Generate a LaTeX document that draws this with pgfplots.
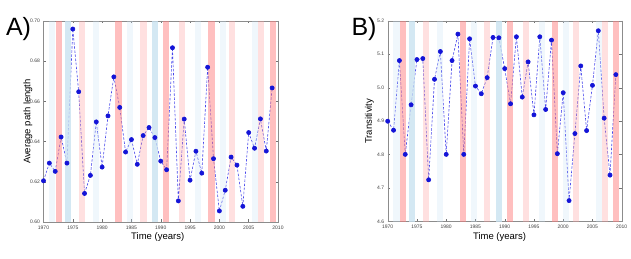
\documentclass[border=0pt]{standalone}
\usepackage{fontspec}
\setmainfont{Liberation Sans}
\usepackage{pgfplots}
\pgfplotsset{compat=1.18}
\definecolor{bred}{RGB}{255,128,128}
\definecolor{blred}{RGB}{255,160,160}
\definecolor{blblue}{RGB}{200,225,240}
\definecolor{bvlblue}{RGB}{200,225,245}
\definecolor{ptc}{RGB}{20,20,215}
\definecolor{lnc}{RGB}{70,70,235}
\pgfplotsset{
  myaxis/.style={
    scale only axis, width=234.5pt, height=201pt,
    xmin=1970, xmax=2010, xtick={1970,1975,...,2010},
    axis line style={black!45},
    tick style={black!55, line width=0.4pt},
    major tick length=2.5pt, tick align=inside,
    tick label style={font=\fontsize{5}{6}\selectfont, text=black!75},
    /pgf/number format/assume math mode=true,
    x tick label style={/pgf/number format/1000 sep={}},
    label style={font=\fontsize{9.5}{11}\selectfont},
    xlabel={Time (years)},
    clip=true,
  },
  bands/.style={ycomb, line width=6.1pt, forget plot},
  series/.style={dashed, dash pattern=on 2.5pt off 1.6pt, lnc, line width=0.6pt,
    mark=*, mark size=2.1pt, mark options={solid, fill=ptc, draw=ptc}},
}
\begin{document}
\begin{tikzpicture}
\useasboundingbox (0,0) rectangle (631pt,259pt);
% ---------------- Panel A ----------------
\begin{axis}[myaxis, at={(43.5pt,37pt)}, anchor=south west,
  ymin=0.60, ymax=0.70, ytick={0.60,0.62,...,0.70},
  y tick label style={/pgf/number format/.cd, fixed, fixed zerofill, precision=2},
  ylabel={Average path length},
  ylabel style={at={(axis description cs:0,0.5)}, anchor=center, yshift=15.5pt},
  xlabel style={at={(axis description cs:0.487,0)}, anchor=center, yshift=-15.5pt},
]
\addplot[series] coordinates {
(1970,0.6205) (1971,0.6293) (1972,0.6252) (1973,0.6423) (1974,0.6293)
(1975,0.6960) (1976,0.6648) (1977,0.6142) (1978,0.6232) (1979,0.6498)
(1980,0.6273) (1981,0.6528) (1982,0.6722) (1983,0.6570) (1984,0.6348)
(1985,0.6410) (1986,0.6287) (1987,0.6430) (1988,0.6470) (1989,0.6420)
(1990,0.6303) (1991,0.6260) (1992,0.6867) (1993,0.6105) (1994,0.6512)
(1995,0.6208) (1996,0.6352) (1997,0.6243) (1998,0.6770) (1999,0.6315)
(2000,0.6055) (2001,0.6158) (2002,0.6323) (2003,0.6283) (2004,0.6078)
(2005,0.6445) (2006,0.6367) (2007,0.6513) (2008,0.6353) (2009,0.6667)
};
\addplot[bands, draw=bred, draw opacity=0.5] coordinates {(1972.65,0.70) (1982.8,0.70) (1990.9,0.70) (1998.65,0.70) (2009.1,0.70)};
\addplot[bands, draw=blred, draw opacity=0.33] coordinates {(1976.5,0.70) (1987.05,0.70) (1993.6,0.70) (2002.2,0.70) (2007.15,0.70)};
\addplot[bands, draw=blblue, draw opacity=0.78] coordinates {(1974.2,0.70) (1989.0,0.70)};
\addplot[bands, draw=bvlblue, draw opacity=0.27] coordinates {(1971.5,0.70) (1978.9,0.70) (1984.7,0.70) (1996.3,0.70) (2000.55,0.70) (2006.05,0.70)};
\end{axis}
% ---------------- Panel B ----------------
\begin{axis}[myaxis, at={(387.7pt,37.3pt)}, anchor=south west, width=234pt,
  ymin=4.6, ymax=5.2, ytick={4.6,4.7,...,5.2},
  y tick label style={/pgf/number format/.cd, fixed, fixed zerofill, precision=1},
  ylabel={Transitivity},
  ylabel style={at={(axis description cs:0,0.5)}, anchor=center, yshift=18.4pt},
  xlabel style={at={(axis description cs:0.478,0)}, anchor=center, yshift=-15.5pt},
]
\addplot[series] coordinates {
(1970,4.900) (1971,4.873) (1972,5.081) (1973,4.801) (1974,4.949)
(1975,5.084) (1976,5.087) (1977,4.725) (1978,5.025) (1979,5.108)
(1980,4.801) (1981,5.081) (1982,5.160) (1983,4.801) (1984,5.146)
(1985,5.005) (1986,4.982) (1987,5.030) (1988,5.150) (1989,5.149)
(1990,5.057) (1991,4.952) (1992,5.152) (1993,4.972) (1994,5.077)
(1995,4.919) (1996,5.152) (1997,4.935) (1998,5.142) (1999,4.803)
(2000,4.985) (2001,4.663) (2002,4.863) (2003,5.065) (2004,4.872)
(2005,5.007) (2006,5.170) (2007,4.909) (2008,4.739) (2009,5.039)
};
\addplot[bands, draw=bred, draw opacity=0.5] coordinates {(1972.65,5.2) (1982.8,5.2) (1990.9,5.2) (1998.65,5.2) (2009.1,5.2)};
\addplot[bands, draw=blred, draw opacity=0.33] coordinates {(1976.5,5.2) (1987.05,5.2) (1993.6,5.2) (2002.2,5.2) (2007.15,5.2)};
\addplot[bands, draw=blblue, draw opacity=0.78] coordinates {(1974.2,5.2) (1989.0,5.2)};
\addplot[bands, draw=bvlblue, draw opacity=0.27] coordinates {(1971.5,5.2) (1978.9,5.2) (1984.7,5.2) (1996.3,5.2) (2000.55,5.2) (2006.05,5.2)};
\end{axis}
\node[font=\fontsize{25}{28}\selectfont, anchor=center] at (18.5pt,230pt) {A)};
\node[font=\fontsize{25}{28}\selectfont, anchor=center] at (364pt,230pt) {B)};
\end{tikzpicture}
\end{document}
